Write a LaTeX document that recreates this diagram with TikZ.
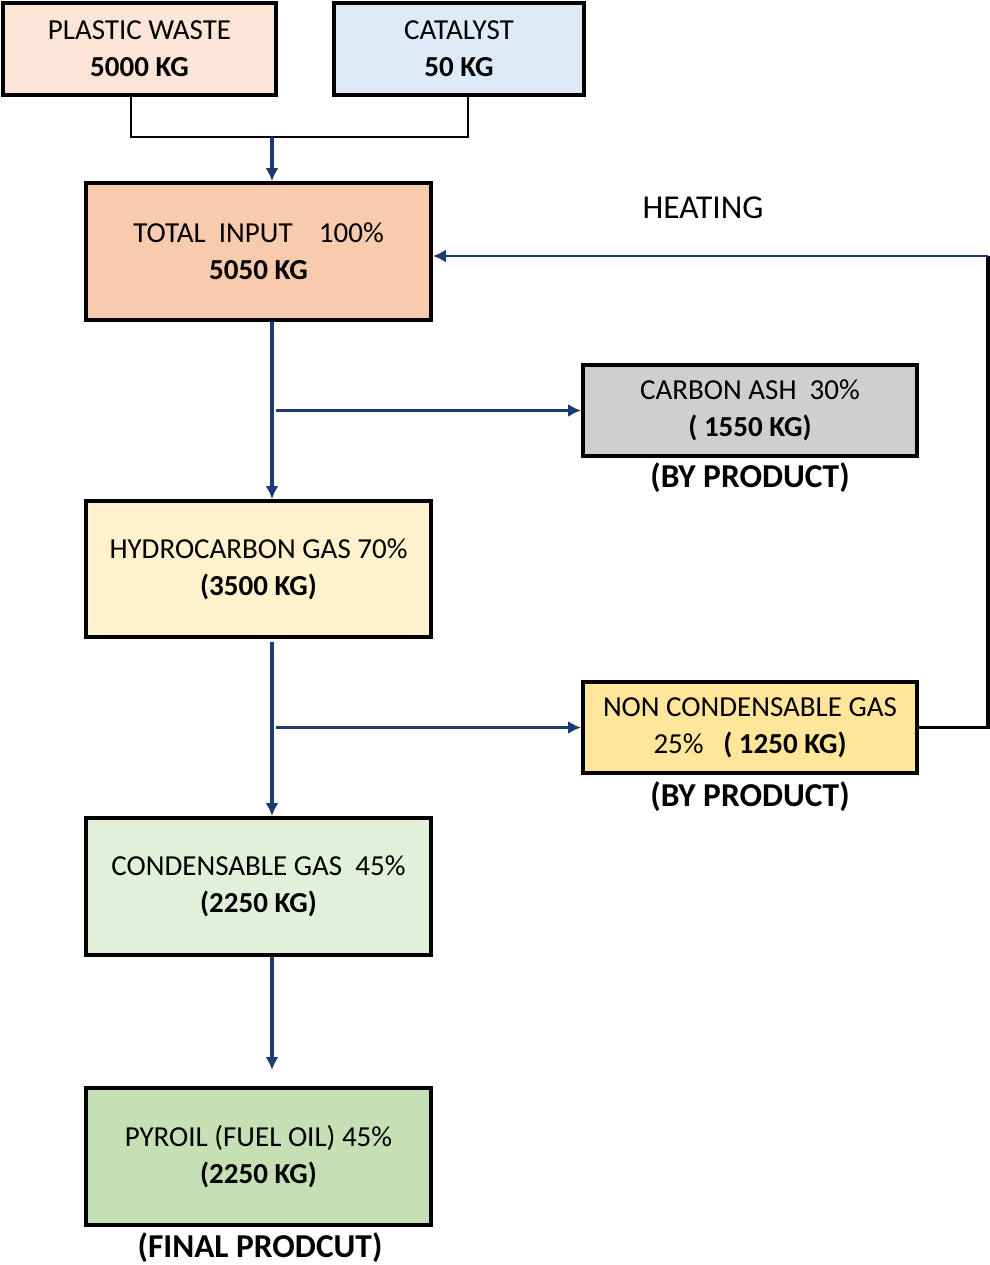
\documentclass[tikz,border=0pt]{standalone}
\usepackage{fontspec}
\setmainfont{Carlito}
\usetikzlibrary{arrows.meta}
\definecolor{flowblue}{HTML}{1B3A73}
\definecolor{plasticfill}{HTML}{FBE5D6}
\definecolor{catfill}{HTML}{DEEBF7}
\definecolor{totalfill}{HTML}{F8CBAD}
\definecolor{ashfill}{HTML}{D0CECE}
\definecolor{hydrofill}{HTML}{FFF2CC}
\definecolor{ncgfill}{HTML}{FFE699}
\definecolor{condfill}{HTML}{E2F0D9}
\definecolor{oilfill}{HTML}{C5E0B4}
\begin{document}
\begin{tikzpicture}[>={Latex[length=2.6mm,width=2.6mm]},
    box/.style={draw=black, line width=2.2pt, align=center, inner sep=0pt,
                font=\fontsize{16.5}{21}\selectfont},
    flow/.style={->, draw=flowblue, line width=2.1pt},
    feed/.style={draw=black, line width=1pt},
    note/.style={font=\fontsize{19}{22}\selectfont}]
            % page frame
            \useasboundingbox (0,0) rectangle (19.8,-25.3);

            % inputs
            \node[box, fill=plasticfill, minimum width=5.46cm, minimum height=1.84cm] (plastic) at (2.79,-0.98) {PLASTIC WASTE\\\textbf{5000 KG}};
            \node[box, fill=catfill, minimum width=5.0cm, minimum height=1.84cm] (catalyst) at (9.18,-0.98) {CATALYST\\\textbf{50 KG}};

            % process boxes
            \node[box, fill=totalfill, minimum width=6.9cm, minimum height=2.74cm] (total) at (5.17,-5.03) {TOTAL\ \ INPUT\ \ \ \ 100\%\\\textbf{5050 KG}};
            \node[box, fill=hydrofill, minimum width=6.9cm, minimum height=2.72cm] (hydro) at (5.17,-11.38) {HYDROCARBON GAS 70\%\\\textbf{(3500 KG)}};
            \node[box, fill=condfill, minimum width=6.9cm, minimum height=2.74cm] (cond) at (5.17,-17.73) {CONDENSABLE GAS\ \ 45\%\\\textbf{(2250 KG)}};
            \node[box, fill=oilfill, minimum width=6.9cm, minimum height=2.74cm] (oil) at (5.17,-23.13) {PYROIL (FUEL OIL) 45\%\\\textbf{(2250 KG)}};

            % by products
            \node[box, fill=ashfill, minimum width=6.68cm, minimum height=1.82cm] (ash) at (15.0,-8.21) {CARBON ASH\ \ 30\%\\\textbf{( 1550 KG)}};
            \node[box, fill=ncgfill, minimum width=6.68cm, minimum height=1.82cm] (ncg) at (15.0,-14.55) {NON CONDENSABLE GAS\\25\%\ \ \ \textbf{( 1250 KG)}};

            % labels
            \node[note] (heat) at (14.06,-4.16) {HEATING};
            \node[note] (ashlbl) at (15.0,-9.56) {\textbf{(BY PRODUCT)}};
            \node[note] (ncglbl) at (15.0,-15.94) {\textbf{(BY PRODUCT)}};
            \node[note] (oillbl) at (5.2,-24.96) {\textbf{(FINAL PRODCUT)}};

            % join of the inputs
            \coordinate (lj) at (2.62,-2.74);
            \coordinate (rj) at (9.36,-2.74);
            \coordinate (join) at (5.44,-2.74);
            \draw[feed] (plastic.south -| lj) -- (lj) -- (rj) -- (catalyst.south -| rj);
            \draw[flow] (join) -- (total.north -| join);

            % main line
            \draw[flow] (total.south -| join) -- (hydro.north -| join);
            \draw[flow] ([xshift=2pt]ash.west -| join) -- (ash.west);
            \draw[flow] ([yshift=-2pt]hydro.south -| join) -- (cond.north -| join);
            \draw[flow] ([xshift=2pt]ncg.west -| join) -- (ncg.west);
            \coordinate (oilin) at (5.44,-21.4);
            \draw[flow] (cond.south -| join) -- (oilin);

            % heating loop
            \coordinate (fb) at (19.76,-5.12);
            \draw[draw=black, line width=2pt] (ncg.east) -- (ncg.east -| fb) -- (fb);
            \draw[flow, line width=1.6pt] (fb) -- (total.east |- fb);
\end{tikzpicture}
\end{document}
